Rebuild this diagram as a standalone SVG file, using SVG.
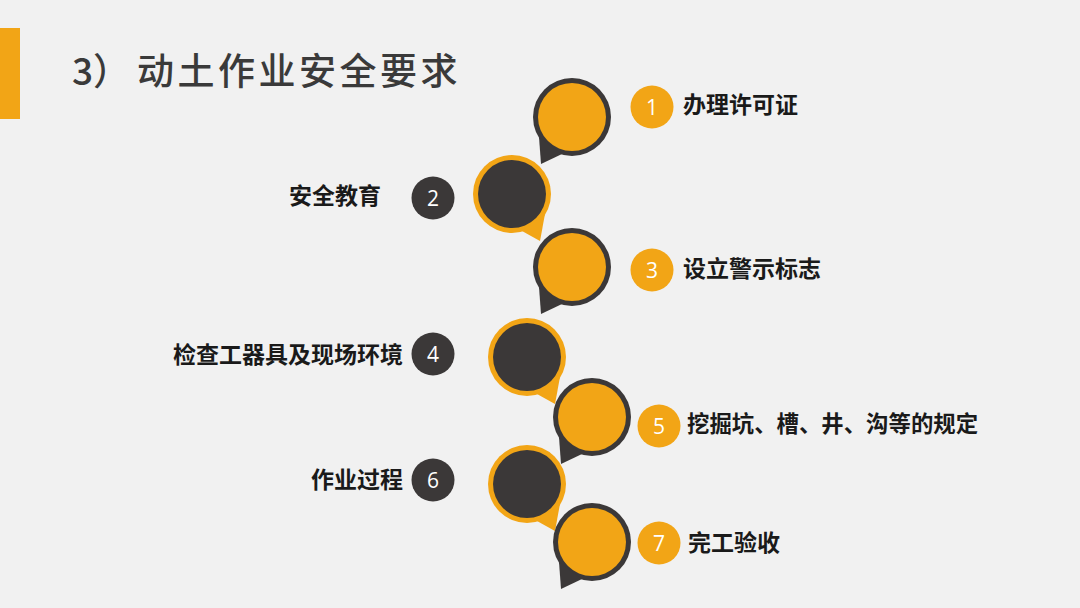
<svg xmlns="http://www.w3.org/2000/svg" xmlns:xlink="http://www.w3.org/1999/xlink" width="1080" height="608" viewBox="0 0 1080 608">
<style>
.bg{fill:#F1F1F1}
.org{fill:#F2A516}
.drk{fill:#3B3838}
.title{font-family:"Noto Sans CJK SC","Noto Sans",sans-serif;font-size:37px;font-weight:500;fill:#3A3A3A}
.lbl{font-family:"Noto Sans CJK SC","Noto Sans",sans-serif;font-size:23px;font-weight:bold;fill:#1A1A1A}
.num{font-family:"Open Sans","Liberation Sans",sans-serif;font-size:21px;fill:#FFFFFF;text-anchor:middle}
</style>
<defs>
<g id="bubO">
<circle r="39" class="drk"/>
<path d="M-33,20 L-31,47 L-10,37 Z" class="drk"/>
<circle r="34" class="org"/>
</g>
<g id="bubD">
<circle r="39" class="org"/>
<path d="M33,20 L28,47 L10,37 Z" class="org"/>
<circle r="34" class="drk"/>
</g>
</defs>
<rect class="bg" x="0" y="0" width="1080" height="608"/>
<rect class="org" x="0" y="28" width="20" height="91"/>
<text class="title" x="72" y="85">3）</text>
<text class="title" x="137" y="85" letter-spacing="3.5">动土作业安全要求</text>

<g id="connectors"></g>

<g id="node1">
<use xlink:href="#bubO" x="572" y="117"/>
<circle cx="652" cy="107" r="21.5" class="org"/>
<text class="num" x="652" y="115">1</text>
<text class="lbl" x="683" y="113">办理许可证</text>
</g>
<g id="node2">
<use xlink:href="#bubD" x="512" y="194"/>
<circle cx="433" cy="198" r="21.5" class="drk"/>
<text class="num" x="433" y="206">2</text>
<text class="lbl" x="381" y="204" text-anchor="end">安全教育</text>
</g>
<g id="node3">
<use xlink:href="#bubO" x="572" y="267"/>
<circle cx="652" cy="270" r="21.5" class="org"/>
<text class="num" x="652" y="278">3</text>
<text class="lbl" x="683" y="277">设立警示标志</text>
</g>
<g id="node4">
<use xlink:href="#bubD" x="527" y="357"/>
<circle cx="433" cy="354" r="21.5" class="drk"/>
<text class="num" x="433" y="362">4</text>
<text class="lbl" x="403" y="363" text-anchor="end">检查工器具及现场环境</text>
</g>
<g id="node5">
<use xlink:href="#bubO" x="592" y="417"/>
<circle cx="659" cy="426" r="21.5" class="org"/>
<text class="num" x="659" y="434">5</text>
<text class="lbl" x="687" y="432" style="font-size:22.4px">挖掘坑、槽、井、沟等的规定</text>
</g>
<g id="node6">
<use xlink:href="#bubD" x="527" y="484"/>
<circle cx="433" cy="480" r="21.5" class="drk"/>
<text class="num" x="433" y="488">6</text>
<text class="lbl" x="403" y="488" text-anchor="end">作业过程</text>
</g>
<g id="node7">
<use xlink:href="#bubO" x="592" y="542"/>
<circle cx="659" cy="543" r="21.5" class="org"/>
<text class="num" x="659" y="551">7</text>
<text class="lbl" x="688" y="551">完工验收</text>
</g>
</svg>
